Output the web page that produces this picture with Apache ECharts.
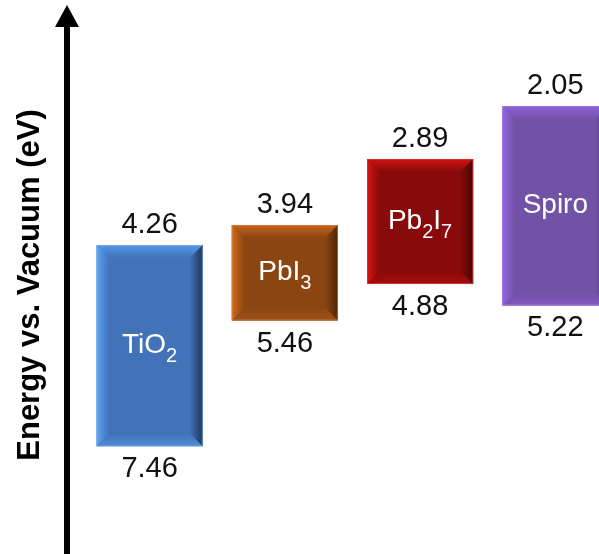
<!DOCTYPE html>
<html>
<head>
<meta charset="utf-8">
<script src="https://cdn.jsdelivr.net/npm/echarts@6/dist/echarts.min.js"></script>
<style>
html,body{margin:0;padding:0;background:#fff;}
#chart{width:599px;height:554px;}
</style>
</head>
<body>
<div id="chart"></div>
<script>
// ---- data ----
const categories = ['TiO2', 'PbI3', 'Pb2I7', 'Spiro'];
const boxLabels = ['TiO{s|2}', 'PbI{s|3}', 'Pb{s|2}I{s|7}', 'Spiro'];
const lumoValues = [4.26, 3.94, 2.89, 2.05];   // top of box (eV)
const homoValues = [7.46, 5.46, 4.88, 5.22];   // bottom of box (eV)
const axisTitle = 'Energy vs. Vacuum (eV)';

// ---- styles ----
const palette = [
  {face:'#4272b8', left:'#5ea2f6', top:'#5597ea', right:'#1c3658', bottom:'#4d8ad8', edge:'#7fb2f0'},
  {face:'#8a4511', left:'#d06a1c', top:'#c6661c', right:'#4f2607', bottom:'#a0521a', edge:'#d88a4a'},
  {face:'#880a0a', left:'#d81414', top:'#d01212', right:'#4a0404', bottom:'#a50e0e', edge:'#e04a4a'},
  {face:'#7252a6', left:'#9466e6', top:'#8c60dc', right:'#45306a', bottom:'#8058c0', edge:'#a888e8'}
];
const FONT = '"Liberation Sans", Arial, sans-serif';

const seriesData = categories.map((c, i) => [i, lumoValues[i], homoValues[i]]);

function lg(x, y, x2, y2, c1, c2) {
  return {type:'linear', x:x, y:y, x2:x2, y2:y2, global:false,
    colorStops:[{offset:0, color:c1}, {offset:1, color:c2}]};
}

const chart = echarts.init(document.getElementById('chart'), null, {renderer:'canvas'});
chart.setOption({
  animation: false,
  backgroundColor: '#fff',
  grid: {left: 82, right: 0, top: 16, bottom: 0},
  xAxis: {type:'value', min: -0.5, max: 3.323, show: false},
  yAxis: [
    {type:'value', inverse: true, min: 0.618, max: 9.172, show: false},
    {type:'value', min: 0, max: 1, position:'left', offset: 15,
     axisLine: {show: true, symbol: ['none', 'triangle'], symbolSize: [24, 22],
       lineStyle: {color:'#000', width: 6}},
     axisTick: {show:false}, axisLabel: {show:false}, splitLine: {show:false},
     name: axisTitle, nameLocation: 'middle', nameRotate: 90, nameGap: 21,
     nameTextStyle: {fontFamily: FONT, fontWeight: 'bold', fontSize: 31, color:'#000'}}
  ],
  series: [{
    type: 'custom',
    yAxisIndex: 0,
    data: seriesData,
    encode: {x: 0, y: [1, 2]},
    clip: false,
    renderItem: function (params, api) {
      const i = api.value(0);
      const pTop = api.coord([i, api.value(1)]);
      const pBot = api.coord([i, api.value(2)]);
      const w = api.size([1, 0])[0] * 0.785;
      const x0 = pTop[0] - w / 2, x1 = pTop[0] + w / 2;
      const y0 = pTop[1], y1 = pBot[1];
      const b = 13;
      const c = palette[i];
      return {
        type: 'group',
        children: [
          {type:'rect', shape:{x:x0, y:y0, width:w, height:y1 - y0}, style:{fill:c.face}},
          {type:'polygon', shape:{points:[[x0,y0],[x1,y0],[x1-b,y0+b],[x0+b,y0+b]]},
           style:{fill: lg(0,0,0,1,c.top,c.face)}},
          {type:'polygon', shape:{points:[[x0,y1],[x1,y1],[x1-b,y1-b],[x0+b,y1-b]]},
           style:{fill: lg(0,1,0,0,c.bottom,c.face)}},
          {type:'polygon', shape:{points:[[x0,y0],[x0+b,y0+b],[x0+b,y1-b],[x0,y1]]},
           style:{fill: lg(0,0,1,0,c.left,c.face)}},
          {type:'polygon', shape:{points:[[x1,y0],[x1,y1],[x1-b,y1-b],[x1-b,y0+b]]},
           style:{fill: lg(1,0,0,0,c.right,c.face)}},
          {type:'rect', shape:{x:x0+0.5, y:y0+0.5, width:w-1, height:y1-y0-1},
           style:{fill:'none', stroke:c.edge, lineWidth:1, opacity:0.6}},
          {type:'text', x: pTop[0], y: y0 - 20,
           style:{text: api.value(1).toFixed(2), align:'center', verticalAlign:'middle',
             fontFamily: FONT, fontSize: 29, fill:'#111'}},
          {type:'text', x: pTop[0], y: y1 + 23,
           style:{text: api.value(2).toFixed(2), align:'center', verticalAlign:'middle',
             fontFamily: FONT, fontSize: 29, fill:'#111'}},
          {type:'text', x: pTop[0], y: (y0 + y1) / 2,
           style:{text: boxLabels[i], align:'center', verticalAlign:'middle',
             fontFamily: FONT, fontSize: 28, fill:'#fff', lineHeight: 42,
             rich: {s: {fontFamily: FONT, fontSize: 20, fill:'#fff', verticalAlign:'bottom', lineHeight: 42}}}}
        ]
      };
    }
  }]
});
</script>
</body>
</html>
